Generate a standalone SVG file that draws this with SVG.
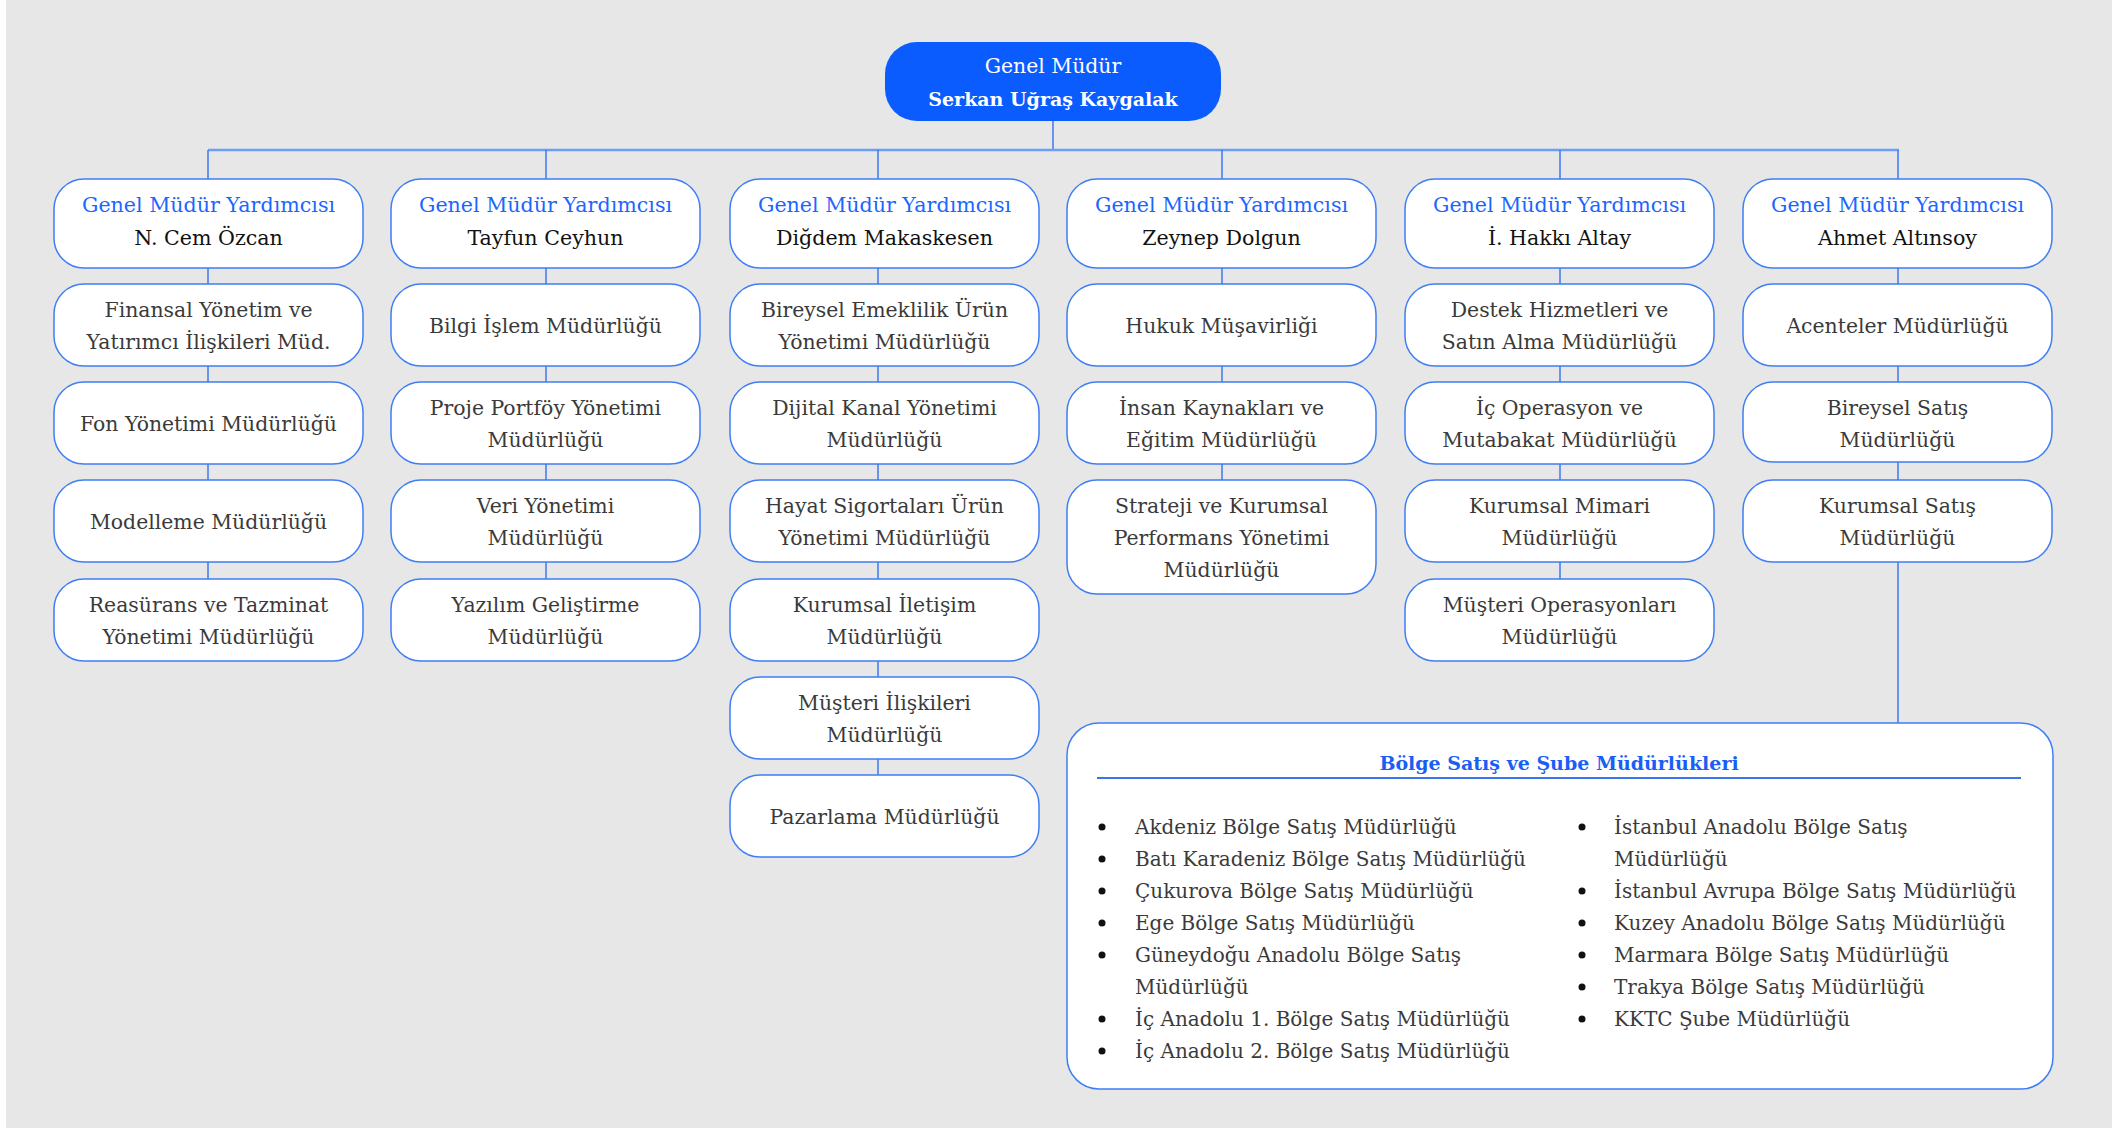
<svg xmlns="http://www.w3.org/2000/svg" width="2112" height="1128" viewBox="0 0 2112 1128">
<style>
.bg{fill:#e7e7e7}
.box{fill:#ffffff;stroke:#3f7ef5;stroke-width:1.5}
.top{fill:#0a5cff}
.ln{stroke:#3b78f0;stroke-width:1.5;fill:none}
.bus{stroke:#6d9df5;stroke-width:2.5;fill:none}
text{font-family:"DejaVu Serif","Liberation Serif",serif;text-anchor:middle}
.t{font-size:20.4px;fill:#3a3a3a}
.gm{font-size:20.6px;fill:#1a66ff}
.nm{font-size:20.6px;fill:#111111}
.wt{font-size:20.4px;fill:#ffffff}
.wb{font-size:19px;fill:#ffffff;font-weight:bold}
.hd{font-size:19px;fill:#1a5ff5;font-weight:bold}
.li{font-size:20px;fill:#3a3a3a;text-anchor:start}
.dot{fill:#111111}
</style>
<rect x="0" y="0" width="2112" height="1128" fill="#ffffff"/>
<rect class="bg" x="6" y="0" width="2106" height="1128"/>

<g id="connectors">
<line class="ln" x1="1053" y1="120" x2="1053" y2="150"/>
<line class="bus" x1="208" y1="150" x2="1899" y2="150"/>
<line class="ln" x1="208" y1="150" x2="208" y2="579"/>
<line class="ln" x1="546" y1="150" x2="546" y2="579"/>
<line class="ln" x1="878" y1="150" x2="878" y2="775"/>
<line class="ln" x1="1222" y1="150" x2="1222" y2="480"/>
<line class="ln" x1="1560" y1="150" x2="1560" y2="579"/>
<line class="ln" x1="1898" y1="150" x2="1898" y2="723"/>
</g>

<g id="ceo">
<rect class="top" x="885" y="42" width="336" height="79" rx="32"/>
<text class="wt" x="1053" y="73">Genel Müdür</text>
<text class="wb" x="1053" y="106">Serkan Uğraş Kaygalak</text>
</g>

<g id="gmy1"><rect class="box" x="54" y="179" width="309" height="89" rx="30"/><text class="gm" x="208.5" y="212">Genel Müdür Yardımcısı</text><text class="nm" x="208.5" y="245">N. Cem Özcan</text></g>
<g id="gmy2"><rect class="box" x="391" y="179" width="309" height="89" rx="30"/><text class="gm" x="545.5" y="212">Genel Müdür Yardımcısı</text><text class="nm" x="545.5" y="245">Tayfun Ceyhun</text></g>
<g id="gmy3"><rect class="box" x="730" y="179" width="309" height="89" rx="30"/><text class="gm" x="884.5" y="212">Genel Müdür Yardımcısı</text><text class="nm" x="884.5" y="245">Diğdem Makaskesen</text></g>
<g id="gmy4"><rect class="box" x="1067" y="179" width="309" height="89" rx="30"/><text class="gm" x="1221.5" y="212">Genel Müdür Yardımcısı</text><text class="nm" x="1221.5" y="245">Zeynep Dolgun</text></g>
<g id="gmy5"><rect class="box" x="1405" y="179" width="309" height="89" rx="30"/><text class="gm" x="1559.5" y="212">Genel Müdür Yardımcısı</text><text class="nm" x="1559.5" y="245">İ. Hakkı Altay</text></g>
<g id="gmy6"><rect class="box" x="1743" y="179" width="309" height="89" rx="30"/><text class="gm" x="1897.5" y="212">Genel Müdür Yardımcısı</text><text class="nm" x="1897.5" y="245">Ahmet Altınsoy</text></g>

<!-- column 1 -->
<g id="c1r1"><rect class="box" x="54" y="284" width="309" height="82" rx="30"/><text class="t" x="208.5" y="317">Finansal Yönetim ve</text><text class="t" x="208.5" y="349">Yatırımcı İlişkileri Müd.</text></g>
<g id="c1r2"><rect class="box" x="54" y="382" width="309" height="82" rx="30"/><text class="t" x="208.5" y="431">Fon Yönetimi Müdürlüğü</text></g>
<g id="c1r3"><rect class="box" x="54" y="480" width="309" height="82" rx="30"/><text class="t" x="208.5" y="529">Modelleme Müdürlüğü</text></g>
<g id="c1r4"><rect class="box" x="54" y="579" width="309" height="82" rx="30"/><text class="t" x="208.5" y="612">Reasürans ve Tazminat</text><text class="t" x="208.5" y="644">Yönetimi Müdürlüğü</text></g>

<!-- column 2 -->
<g id="c2r1"><rect class="box" x="391" y="284" width="309" height="82" rx="30"/><text class="t" x="545.5" y="333">Bilgi İşlem Müdürlüğü</text></g>
<g id="c2r2"><rect class="box" x="391" y="382" width="309" height="82" rx="30"/><text class="t" x="545.5" y="415">Proje Portföy Yönetimi</text><text class="t" x="545.5" y="447">Müdürlüğü</text></g>
<g id="c2r3"><rect class="box" x="391" y="480" width="309" height="82" rx="30"/><text class="t" x="545.5" y="513">Veri Yönetimi</text><text class="t" x="545.5" y="545">Müdürlüğü</text></g>
<g id="c2r4"><rect class="box" x="391" y="579" width="309" height="82" rx="30"/><text class="t" x="545.5" y="612">Yazılım Geliştirme</text><text class="t" x="545.5" y="644">Müdürlüğü</text></g>

<!-- column 3 -->
<g id="c3r1"><rect class="box" x="730" y="284" width="309" height="82" rx="30"/><text class="t" x="884.5" y="317">Bireysel Emeklilik Ürün</text><text class="t" x="884.5" y="349">Yönetimi Müdürlüğü</text></g>
<g id="c3r2"><rect class="box" x="730" y="382" width="309" height="82" rx="30"/><text class="t" x="884.5" y="415">Dijital Kanal Yönetimi</text><text class="t" x="884.5" y="447">Müdürlüğü</text></g>
<g id="c3r3"><rect class="box" x="730" y="480" width="309" height="82" rx="30"/><text class="t" x="884.5" y="513">Hayat Sigortaları Ürün</text><text class="t" x="884.5" y="545">Yönetimi Müdürlüğü</text></g>
<g id="c3r4"><rect class="box" x="730" y="579" width="309" height="82" rx="30"/><text class="t" x="884.5" y="612">Kurumsal İletişim</text><text class="t" x="884.5" y="644">Müdürlüğü</text></g>
<g id="c3r5"><rect class="box" x="730" y="677" width="309" height="82" rx="30"/><text class="t" x="884.5" y="710">Müşteri İlişkileri</text><text class="t" x="884.5" y="742">Müdürlüğü</text></g>
<g id="c3r6"><rect class="box" x="730" y="775" width="309" height="82" rx="30"/><text class="t" x="884.5" y="824">Pazarlama Müdürlüğü</text></g>

<!-- column 4 -->
<g id="c4r1"><rect class="box" x="1067" y="284" width="309" height="82" rx="30"/><text class="t" x="1221.5" y="333">Hukuk Müşavirliği</text></g>
<g id="c4r2"><rect class="box" x="1067" y="382" width="309" height="82" rx="30"/><text class="t" x="1221.5" y="415">İnsan Kaynakları ve</text><text class="t" x="1221.5" y="447">Eğitim Müdürlüğü</text></g>
<g id="c4r3"><rect class="box" x="1067" y="480" width="309" height="114" rx="30"/><text class="t" x="1221.5" y="513">Strateji ve Kurumsal</text><text class="t" x="1221.5" y="545">Performans Yönetimi</text><text class="t" x="1221.5" y="577">Müdürlüğü</text></g>

<!-- column 5 -->
<g id="c5r1"><rect class="box" x="1405" y="284" width="309" height="82" rx="30"/><text class="t" x="1559.5" y="317">Destek Hizmetleri ve</text><text class="t" x="1559.5" y="349">Satın Alma Müdürlüğü</text></g>
<g id="c5r2"><rect class="box" x="1405" y="382" width="309" height="82" rx="30"/><text class="t" x="1559.5" y="415">İç Operasyon ve</text><text class="t" x="1559.5" y="447">Mutabakat Müdürlüğü</text></g>
<g id="c5r3"><rect class="box" x="1405" y="480" width="309" height="82" rx="30"/><text class="t" x="1559.5" y="513">Kurumsal Mimari</text><text class="t" x="1559.5" y="545">Müdürlüğü</text></g>
<g id="c5r4"><rect class="box" x="1405" y="579" width="309" height="82" rx="30"/><text class="t" x="1559.5" y="612">Müşteri Operasyonları</text><text class="t" x="1559.5" y="644">Müdürlüğü</text></g>

<!-- column 6 -->
<g id="c6r1"><rect class="box" x="1743" y="284" width="309" height="82" rx="30"/><text class="t" x="1897.5" y="333">Acenteler Müdürlüğü</text></g>
<g id="c6r2"><rect class="box" x="1743" y="382" width="309" height="80" rx="30"/><text class="t" x="1897.5" y="415">Bireysel Satış</text><text class="t" x="1897.5" y="447">Müdürlüğü</text></g>
<g id="c6r3"><rect class="box" x="1743" y="480" width="309" height="82" rx="30"/><text class="t" x="1897.5" y="513">Kurumsal Satış</text><text class="t" x="1897.5" y="545">Müdürlüğü</text></g>

<!-- regional -->
<g id="bolge">
<rect class="box" x="1067" y="723" width="986" height="366" rx="32"/>
<text class="hd" x="1559" y="770">Bölge Satış ve Şube Müdürlükleri</text>
<line x1="1097" y1="778" x2="2021" y2="778" stroke="#3a74ee" stroke-width="2"/>
<circle class="dot" cx="1102" cy="827" r="3.5"/><text class="li" x="1135" y="834">Akdeniz Bölge Satış Müdürlüğü</text>
<circle class="dot" cx="1102" cy="859" r="3.5"/><text class="li" x="1135" y="866">Batı Karadeniz Bölge Satış Müdürlüğü</text>
<circle class="dot" cx="1102" cy="891" r="3.5"/><text class="li" x="1135" y="898">Çukurova Bölge Satış Müdürlüğü</text>
<circle class="dot" cx="1102" cy="923" r="3.5"/><text class="li" x="1135" y="930">Ege Bölge Satış Müdürlüğü</text>
<circle class="dot" cx="1102" cy="955" r="3.5"/><text class="li" x="1135" y="962">Güneydoğu Anadolu Bölge Satış</text>
<text class="li" x="1135" y="994">Müdürlüğü</text>
<circle class="dot" cx="1102" cy="1019" r="3.5"/><text class="li" x="1135" y="1026">İç Anadolu 1. Bölge Satış Müdürlüğü</text>
<circle class="dot" cx="1102" cy="1051" r="3.5"/><text class="li" x="1135" y="1058">İç Anadolu 2. Bölge Satış Müdürlüğü</text>
<circle class="dot" cx="1582" cy="827" r="3.5"/><text class="li" x="1614" y="834">İstanbul Anadolu Bölge Satış</text>
<text class="li" x="1614" y="866">Müdürlüğü</text>
<circle class="dot" cx="1582" cy="891" r="3.5"/><text class="li" x="1614" y="898">İstanbul Avrupa Bölge Satış Müdürlüğü</text>
<circle class="dot" cx="1582" cy="923" r="3.5"/><text class="li" x="1614" y="930">Kuzey Anadolu Bölge Satış Müdürlüğü</text>
<circle class="dot" cx="1582" cy="955" r="3.5"/><text class="li" x="1614" y="962">Marmara Bölge Satış Müdürlüğü</text>
<circle class="dot" cx="1582" cy="987" r="3.5"/><text class="li" x="1614" y="994">Trakya Bölge Satış Müdürlüğü</text>
<circle class="dot" cx="1582" cy="1019" r="3.5"/><text class="li" x="1614" y="1026">KKTC Şube Müdürlüğü</text>
</g>
</svg>
